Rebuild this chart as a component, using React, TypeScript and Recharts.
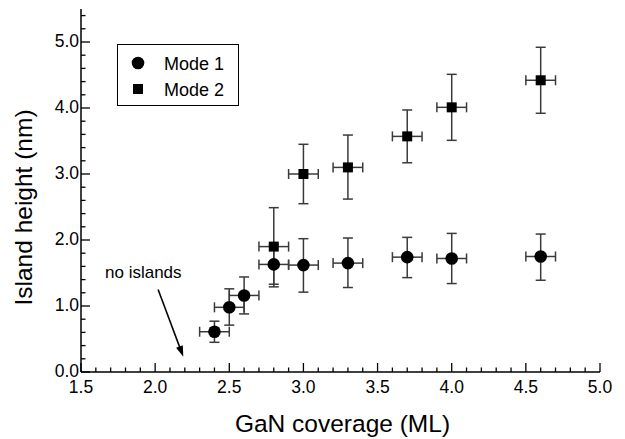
import React from 'react';
import {
  ScatterChart,
  Scatter,
  XAxis,
  YAxis,
  ErrorBar,
  Legend,
  ReferenceLine,
  ReferenceDot,
  Label,
} from 'recharts';

// ---- data ----
const coverage1 = [2.4, 2.5, 2.6, 2.8, 3.0, 3.3, 3.7, 4.0, 4.6];
const height1 = [0.61, 0.98, 1.16, 1.63, 1.62, 1.65, 1.74, 1.72, 1.75];
const low1 = [0.45, 0.71, 0.88, 1.33, 1.21, 1.28, 1.43, 1.34, 1.39];
const high1 = [0.77, 1.26, 1.44, 1.93, 2.02, 2.03, 2.04, 2.1, 2.09];

const coverage2 = [2.8, 3.0, 3.3, 3.7, 4.0, 4.6];
const height2 = [1.9, 3.0, 3.1, 3.57, 4.01, 4.42];
const low2 = [1.29, 2.55, 2.62, 3.17, 3.51, 3.92];
const high2 = [2.49, 3.45, 3.59, 3.97, 4.51, 4.92];

const coverageErr = 0.1;

const seriesNames = ['Mode 1', 'Mode 2'];
const xMajorTicks = [1.5, 2.0, 2.5, 3.0, 3.5, 4.0, 4.5, 5.0];
const yMajorTicks = [0, 1, 2, 3, 4, 5];
const xMinorStep = 0.1;
const yMinorStep = 0.2;
const xDomain = [1.5, 5.0];
const yDomain = [0, 5.5];

const annotationText = 'no islands';
const annotationAt = { x: 1.662, y: 1.42 };
const arrowFrom = { x: 2.02, y: 1.25 };
const arrowTo = { x: 2.19, y: 0.23 };

const xTitle = 'GaN coverage (ML)';
const yTitle = 'Island height (nm)';

// ---- derived tables ----
const buildTicks = (lo: number, hi: number, step: number) => {
  const n = Math.round((hi - lo) / step);
  const out: number[] = [];
  for (let i = 0; i <= n; i++) out.push(+(lo + i * step).toFixed(2));
  return out;
};
const xTicks = buildTicks(xDomain[0], xDomain[1], xMinorStep);
const yTicks = buildTicks(0, 5.4, yMinorStep);

const data1 = coverage1.map((x, i) => ({
  x,
  y: height1[i],
  ex: coverageErr,
  ey: [height1[i] - low1[i], high1[i] - height1[i]],
}));
const data2 = coverage2.map((x, i) => ({
  x,
  y: height2[i],
  ex: coverageErr,
  ey: [height2[i] - low2[i], high2[i] - height2[i]],
}));

const isMajorX = (v: number) => xMajorTicks.some((m) => Math.abs(m - v) < 1e-6);
const isMajorY = (v: number) => yMajorTicks.some((m) => Math.abs(m - v) < 1e-6);

const FONT = '"Liberation Sans", Arial, Helvetica, sans-serif';
const MAJ = 9;
const MIN = 4.5;
const TW = 1.3;

const BottomTick = (p: any) => {
  const { x, y, payload } = p;
  const v = payload.value;
  const major = isMajorX(v);
  return (
    <g>
      <line x1={x} x2={x} y1={y} y2={y - (major ? MAJ : MIN)} stroke="#000" strokeWidth={TW} />
      {major && (
        <text x={x} y={y + 21} textAnchor="middle" fontSize={17.5} fontFamily={FONT} fill="#000">
          {v.toFixed(1)}
        </text>
      )}
    </g>
  );
};
const TopTick = (p: any) => {
  const { x, y, payload } = p;
  const major = isMajorX(payload.value);
  return <line x1={x} x2={x} y1={y} y2={y + (major ? MAJ : MIN)} stroke="#000" strokeWidth={TW} />;
};
const LeftTick = (p: any) => {
  const { x, y, payload } = p;
  const v = payload.value;
  const major = isMajorY(v);
  return (
    <g>
      <line x1={x} x2={x + (major ? MAJ : MIN)} y1={y} y2={y} stroke="#000" strokeWidth={TW} />
      {major && (
        <text x={x - 2} y={y + 4.5} textAnchor="end" fontSize={17.5} fontFamily={FONT} fill="#000">
          {v.toFixed(1)}
        </text>
      )}
    </g>
  );
};
const RightTick = (p: any) => {
  const { x, y, payload } = p;
  const major = isMajorY(payload.value);
  return <line x1={x} x2={x - (major ? MAJ : MIN)} y1={y} y2={y} stroke="#000" strokeWidth={TW} />;
};

const CircleShape = (p: any) => <circle cx={p.cx} cy={p.cy} r={6.3} fill="#000" />;
const SquareShape = (p: any) => (
  <rect x={p.cx - 5} y={p.cy - 5} width={10} height={10} fill="#000" />
);

const ArrowShape = (p: any) => {
  const { x1, y1, x2, y2 } = p;
  const dx = x2 - x1;
  const dy = y2 - y1;
  const L = Math.hypot(dx, dy) || 1;
  const ux = dx / L;
  const uy = dy / L;
  const hl = 11;
  const hw = 3.6;
  const bx = x2 - ux * hl;
  const by = y2 - uy * hl;
  return (
    <g>
      <line x1={x1} y1={y1} x2={bx + ux * 2} y2={by + uy * 2} stroke="#000" strokeWidth={1.6} />
      <polygon
        points={`${x2},${y2} ${bx - uy * hw},${by + ux * hw} ${bx + uy * hw},${by - ux * hw}`}
        fill="#000"
      />
    </g>
  );
};

const AnnotationShape = (p: any) => (
  <text x={p.cx} y={p.cy} fontSize={17} fontFamily={FONT} fill="#000">
    {annotationText}
  </text>
);

const LegendBox = () => (
  <svg width={123} height={63} style={{ display: 'block' }}>
    <rect x={0.5} y={0.5} width={121} height={61} fill="#fff" stroke="#000" strokeWidth={1} />
    <circle cx={21} cy={19} r={6.3} fill="#000" />
    <rect x={16} y={40} width={10} height={10} fill="#000" />
    <text x={47} y={25.5} fontSize={18} fontFamily={FONT} fill="#000">
      {seriesNames[0]}
    </text>
    <text x={47} y={51.5} fontSize={18} fontFamily={FONT} fill="#000">
      {seriesNames[1]}
    </text>
  </svg>
);

export default function App() {
  return (
    <div style={{ position: 'absolute', left: 0, top: 0, width: 625, height: 439, background: '#fff' }}>
      <ScatterChart
        width={625}
        height={439}
        margin={{ top: 9, right: 25, bottom: 37, left: 0 }}
        style={{ fontFamily: FONT }}
      >
        <XAxis
          xAxisId="b"
          type="number"
          dataKey="x"
          orientation="bottom"
          domain={xDomain}
          ticks={xTicks}
          interval={0}
          height={30}
          tickSize={0}
          tickMargin={0}
          tickLine={false}
          tick={<BottomTick />}
          axisLine={{ stroke: '#000', strokeWidth: 1.5 }}
          allowDataOverflow
        >
          <Label
            content={(props: any) => {
              const vb = props.viewBox;
              return (
                <text
                  x={vb.x + vb.width / 2 + 2}
                  y={vb.y + 60}
                  textAnchor="middle"
                  fontSize={24.5}
                  fontFamily={FONT}
                  fill="#000"
                >
                  {xTitle}
                </text>
              );
            }}
          />
        </XAxis>
        <XAxis
          xAxisId="t"
          type="number"
          dataKey="x"
          orientation="top"
          domain={xDomain}
          ticks={xTicks}
          interval={0}
          height={0}
          tickSize={0}
          tickMargin={0}
          tickLine={false}
          tick={<TopTick />}
          axisLine={{ stroke: '#000', strokeWidth: 1.5 }}
          allowDataOverflow
        />
        <YAxis
          yAxisId="l"
          type="number"
          dataKey="y"
          orientation="left"
          domain={yDomain}
          ticks={yTicks}
          interval={0}
          width={81}
          tickSize={0}
          tickMargin={0}
          tickLine={false}
          tick={<LeftTick />}
          axisLine={{ stroke: '#000', strokeWidth: 1.5 }}
          allowDataOverflow
        >
          <Label
            content={(props: any) => {
              const vb = props.viewBox;
              const cx = 32;
              const cy = vb.y + vb.height / 2 + 17;
              return (
                <text
                  x={cx}
                  y={cy}
                  transform={`rotate(-90 ${cx} ${cy})`}
                  textAnchor="middle"
                  fontSize={24.5}
                  fontFamily={FONT}
                  fill="#000"
                >
                  {yTitle}
                </text>
              );
            }}
          />
        </YAxis>
        <YAxis
          yAxisId="r"
          type="number"
          dataKey="y"
          orientation="right"
          domain={yDomain}
          ticks={yTicks}
          interval={0}
          width={0}
          tickSize={0}
          tickMargin={0}
          tickLine={false}
          tick={<RightTick />}
          axisLine={{ stroke: '#000', strokeWidth: 1.5 }}
          allowDataOverflow
        />
        <Legend
          layout="vertical"
          align="center"
          verticalAlign="middle"
          wrapperStyle={{ left: 117, top: 44, width: 123, height: 63 }}
          content={() => <LegendBox />}
        />
        <ReferenceLine
          xAxisId="b"
          yAxisId="l"
          segment={[arrowFrom, arrowTo]}
          shape={(p: any) => <ArrowShape {...p} />}
          ifOverflow="visible"
        />
        <ReferenceDot
          xAxisId="b"
          yAxisId="l"
          x={annotationAt.x}
          y={annotationAt.y}
          r={0}
          shape={(p: any) => <AnnotationShape {...p} />}
          ifOverflow="visible"
        />
        <Scatter
          name={seriesNames[1]}
          data={data2}
          xAxisId="b"
          yAxisId="l"
          shape={(p: any) => <SquareShape {...p} />}
          isAnimationActive={false}
        >
          <ErrorBar dataKey="ey" direction="y" width={5} stroke="#3a3a3a" strokeWidth={1.5} />
          <ErrorBar dataKey="ex" direction="x" width={5} stroke="#3a3a3a" strokeWidth={1.5} />
        </Scatter>
        <Scatter
          name={seriesNames[0]}
          data={data1}
          xAxisId="b"
          yAxisId="l"
          shape={(p: any) => <CircleShape {...p} />}
          isAnimationActive={false}
        >
          <ErrorBar dataKey="ey" direction="y" width={5} stroke="#3a3a3a" strokeWidth={1.5} />
          <ErrorBar dataKey="ex" direction="x" width={5} stroke="#3a3a3a" strokeWidth={1.5} />
        </Scatter>
      </ScatterChart>
    </div>
  );
}
